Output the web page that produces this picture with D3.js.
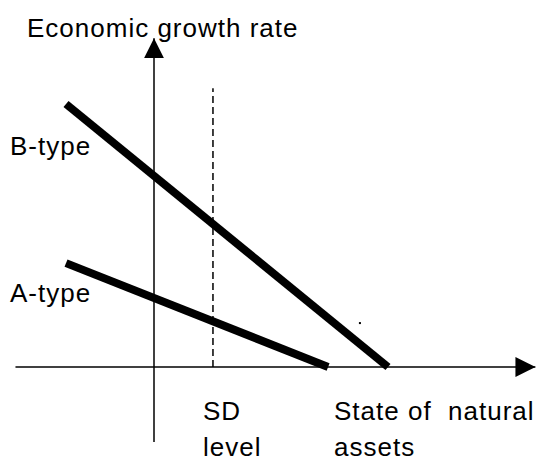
<!DOCTYPE html>
<html>
<head>
<meta charset="utf-8">
<script src="https://cdn.jsdelivr.net/npm/d3@7"></script>
<style>
  body { margin: 0; background: #fff; }
  svg text { font-family: "Liberation Sans", Arial, sans-serif; fill: #000; }
</style>
</head>
<body>
<div id="chart"></div>
<script>
// conceptual diagram values (axis units, origin at the axes crossing)
var typeNames = ["B-type", "A-type"];
var typeStartX = [-3.76, -3.76];
var typeStartY = [10, 3.95];
var typeEndX = [10, 7.44];
var typeEndY = [0, 0];
var sdLevelX = 2.52;
var sdLevelTop = 10.6;
var xAxisExtent = [-5.92, 16.3];
var yAxisExtent = [-2.85, 12.5];
var strayDot = [8.8, 1.67];

var width = 539, height = 461;

var x = d3.scaleLinear().domain([0, 10]).range([154, 388]);
var y = d3.scaleLinear().domain([0, 10]).range([367, 104]);

var svg = d3.select("#chart").append("svg")
  .attr("width", width)
  .attr("height", height);

// arrow heads
var defs = svg.append("defs");
defs.append("marker")
  .attr("id", "arrow")
  .attr("viewBox", "0 0 20 20")
  .attr("refX", 20).attr("refY", 10)
  .attr("markerWidth", 20).attr("markerHeight", 20)
  .attr("markerUnits", "userSpaceOnUse")
  .attr("orient", "auto")
  .append("path")
  .attr("d", "M0,0 L20,10 L0,20 Z")
  .attr("fill", "#000");

// horizontal axis
svg.append("line")
  .attr("x1", x(xAxisExtent[0])).attr("y1", y(0))
  .attr("x2", x(xAxisExtent[1])).attr("y2", y(0))
  .attr("stroke", "#000").attr("stroke-width", 1.5)
  .attr("marker-end", "url(#arrow)");

// vertical axis
svg.append("line")
  .attr("x1", x(0)).attr("y1", y(yAxisExtent[0]))
  .attr("x2", x(0)).attr("y2", y(yAxisExtent[1]))
  .attr("stroke", "#000").attr("stroke-width", 1.5)
  .attr("marker-end", "url(#arrow)");

// SD level dashed line
svg.append("line")
  .attr("x1", x(sdLevelX)).attr("y1", y(0))
  .attr("x2", x(sdLevelX)).attr("y2", y(sdLevelTop))
  .attr("stroke", "#000").attr("stroke-width", 1.5)
  .attr("stroke-dasharray", "7,4");

// the two growth lines
svg.selectAll(".type-line")
  .data(typeNames)
  .enter()
  .append("line")
  .attr("class", "type-line")
  .attr("x1", function(d, i) { return x(typeStartX[i]); })
  .attr("y1", function(d, i) { return y(typeStartY[i]); })
  .attr("x2", function(d, i) { return x(typeEndX[i]); })
  .attr("y2", function(d, i) { return y(typeEndY[i]); })
  .attr("stroke", "#000")
  .attr("stroke-width", 8);

svg.append("rect")
  .attr("x", x(strayDot[0]) - 1).attr("y", y(strayDot[1]) - 1)
  .attr("width", 2).attr("height", 2)
  .attr("fill", "#000");

// labels
var labels = [
  { t: "Economic growth rate", x: 27, y: 37 },
  { t: "B-type", x: 10, y: 155 },
  { t: "A-type", x: 10, y: 302 },
  { t: "SD", x: 203, y: 420 },
  { t: "level", x: 203, y: 456 },
  { t: "State of  natural", x: 334, y: 420 },
  { t: "assets", x: 334, y: 456 }
];

svg.selectAll(".lbl")
  .data(labels)
  .enter()
  .append("text")
  .attr("class", "lbl")
  .attr("x", function(d) { return d.x; })
  .attr("y", function(d) { return d.y; })
  .attr("font-size", "26px")
  .attr("letter-spacing", "1px")
  .style("white-space", "pre")
  .text(function(d) { return d.t; });
</script>
</body>
</html>
